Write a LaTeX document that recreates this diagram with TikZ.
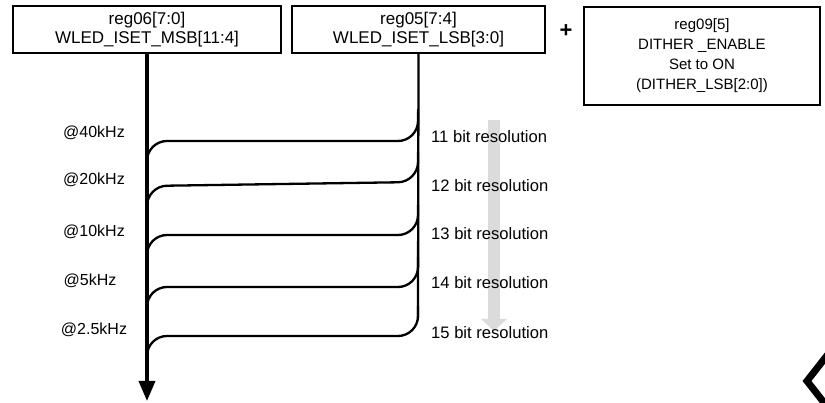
\documentclass[tikz,border=0pt]{standalone}
\usepackage{fontspec}
\setmainfont{Liberation Sans}
\usetikzlibrary{arrows.meta}
\begin{document}
\begin{tikzpicture}[x=1pt,y=-1pt,
  regbox/.style={draw=black,line width=2.2pt,align=center,inner sep=0pt,
    font=\fontsize{17}{19.5}\selectfont},
  ditherbox/.style={draw=black,line width=2.2pt,align=center,inner sep=0pt,
    font=\fontsize{15}{20}\selectfont},
  lbl/.style={font=\fontsize{16}{19}\selectfont,inner sep=0pt},
  reslbl/.style={font=\fontsize{16.6}{19}\selectfont,inner sep=0pt,anchor=west},
  mainline/.style={line width=3.6pt,-{Triangle[length=20pt,width=16pt]}},
  branch/.style={line width=2.3pt,rounded corners=20pt},
]
\useasboundingbox (0,0) rectangle (825,403);
% boxes
\node[regbox,minimum width=268pt,minimum height=47pt] (msb) at (147,29.5)
  {reg06[7:0]\\WLED\_ISET\_MSB[11:4]};
\node[regbox,minimum width=253pt,minimum height=47pt] (lsb) at (418.5,29.5)
  {reg05[7:4]\\WLED\_ISET\_LSB[3:0]};
\node[font=\fontsize{22}{22}\selectfont\bfseries,inner sep=0pt] (plus) at (566,31) {+};
\node[ditherbox,minimum width=236pt,minimum height=98pt] (dith) at (702,56)
  {reg09[5]\\DITHER \_ENABLE\\Set to ON\\(DITHER\_LSB[2:0])};
% gray resolution arrow (behind text)
\coordinate (gtop) at (494,120);
\coordinate (gbot) at (494,331);
\fill[black!14] (488,120) rectangle (500,319);
\fill[black!14] (481,319) -- (507,319) -- (gbot) -- cycle;
% branch coordinates
\coordinate (rend) at (418,318);
\coordinate (aend) at (147,401);
% right vertical line
\draw[line width=2.3pt] (lsb.south) -- (rend);
% branches
\draw[branch] (418,111) -- (418,141) -- (147,141) -- (147,171);
\draw[branch] (418,152) -- (418,182) -- (147,186) -- (147,216);
\draw[branch] (418,205) -- (418,235) -- (147,235) -- (147,265);
\draw[branch] (418,257) -- (418,287) -- (147,287) -- (147,317);
\draw[branch] (418,306) -- (418,336) -- (147,336) -- (147,366);
% main arrow
\draw[mainline] (msb.south) -- (aend);
% frequency labels
\node[lbl] (f1) at (94,133) {@40kHz};
\node[lbl] (f2) at (94,180) {@20kHz};
\node[lbl] (f3) at (94,232) {@10kHz};
\node[lbl] (f4) at (90,281) {@5kHz};
\node[lbl] (f5) at (94,330) {@2.5kHz};
% resolution labels
\node[reslbl] (r1) at (431,137) {11 bit resolution};
\node[reslbl] (r2) at (431,186) {12 bit resolution};
\node[reslbl] (r3) at (431,234) {13 bit resolution};
\node[reslbl] (r4) at (431,283) {14 bit resolution};
\node[reslbl] (r5) at (431,333) {15 bit resolution};
% partial chevron at bottom right
\draw[line width=7pt,miter limit=10] (829,353) -- (807,381) -- (829,409);
\end{tikzpicture}
\end{document}
